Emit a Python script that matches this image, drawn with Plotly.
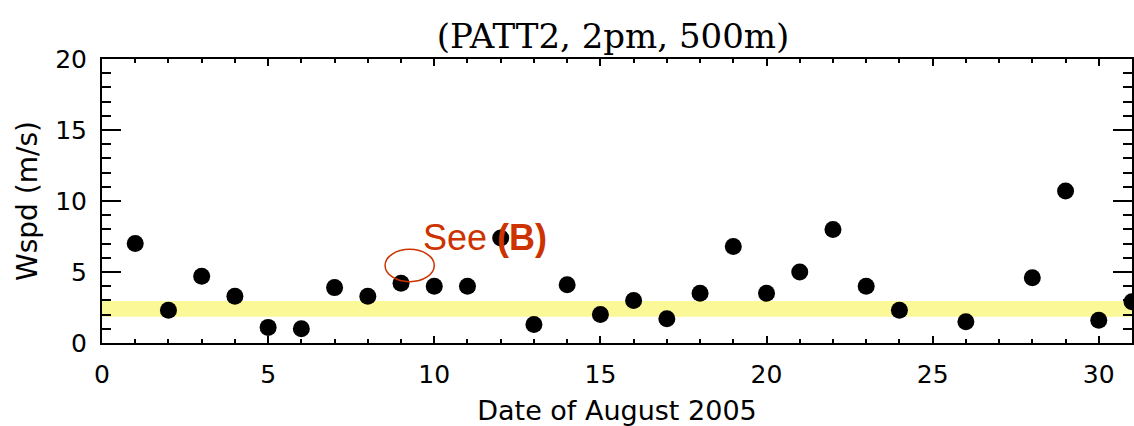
import plotly.graph_objects as go

# Data
days = [1, 2, 3, 4, 5, 6, 7, 8, 9, 10, 11, 12, 13, 14, 15, 16, 17, 18, 19, 20,
        21, 22, 23, 24, 26, 28, 29, 30, 31]
wspd = [7.0, 2.3, 4.7, 3.3, 1.1, 1.0, 3.9, 3.3, 4.2, 4.0, 4.0, 7.4, 1.3, 4.1, 2.0,
        3.0, 1.7, 3.5, 6.8, 3.5, 5.0, 8.0, 4.0, 2.3, 1.5, 4.6, 10.7, 1.6, 2.9]

band_low, band_high = 1.85, 2.95
x_range = [0, 31]
y_range = [0, 20]
x_ticks = [0, 5, 10, 15, 20, 25, 30]
y_ticks = [0, 5, 10, 15, 20]

ellipse_x = [8.52, 10.0]
ellipse_y = [4.32, 6.6]
note_x, note_y = 9.6, 7.46

red = "#CC3300"
tick_font = dict(family="DejaVu Sans", size=25, color="black")

fig = go.Figure()
fig.add_trace(go.Scatter(
    x=days, y=wspd, mode="markers",
    marker=dict(color="black", size=17, line=dict(width=0)),
    showlegend=False,
))

fig.add_shape(type="rect", xref="x", yref="y", x0=x_range[0], x1=x_range[1],
              y0=band_low, y1=band_high, fillcolor="#FBF897",
              line=dict(width=0), layer="below")
fig.add_shape(type="circle", xref="x", yref="y", x0=ellipse_x[0], x1=ellipse_x[1],
              y0=ellipse_y[0], y1=ellipse_y[1], line=dict(color=red, width=1.5))
fig.add_annotation(x=note_x, y=note_y, xref="x", yref="y", xanchor="left",
                   yanchor="middle", showarrow=False,
                   text="See <b>(B)</b>",
                   font=dict(family="Liberation Sans", size=36, color=red))

fig.update_layout(
    width=1134, height=426,
    margin=dict(l=102, r=0, t=59, b=83),
    paper_bgcolor="white", plot_bgcolor="white",
    title=dict(text="(PATT2, 2pm, 500m)", x=613 / 1134, xanchor="center",
               y=1 - 36 / 426, yanchor="middle",
               font=dict(family="DejaVu Serif", size=34, color="black")),
)

fig.update_xaxes(
    range=x_range, tickvals=x_ticks, showgrid=False, zeroline=False,
    showline=True, linecolor="black", linewidth=2, mirror="allticks",
    ticks="inside", ticklen=7, tickwidth=2, tickcolor="black",
    minor=dict(dtick=1, ticks="inside", ticklen=4, tickwidth=2, tickcolor="black", showgrid=False),
    tickfont=tick_font, ticklabelstandoff=8,
    title=dict(text="Date of August 2005",
               font=dict(family="DejaVu Sans", size=27, color="black"), standoff=15),
)
fig.update_yaxes(
    range=y_range, tickvals=y_ticks, showgrid=False, zeroline=False,
    showline=True, linecolor="black", linewidth=2, mirror="allticks",
    ticks="inside", ticklen=19, tickwidth=2, tickcolor="black",
    minor=dict(dtick=1, ticks="inside", ticklen=9, tickwidth=2, tickcolor="black", showgrid=False),
    tickfont=tick_font, ticklabelstandoff=8,
    title=dict(text="Wspd (m/s)",
               font=dict(family="DejaVu Sans", size=28, color="black"), standoff=9),
)

fig.write_html("out.html")
